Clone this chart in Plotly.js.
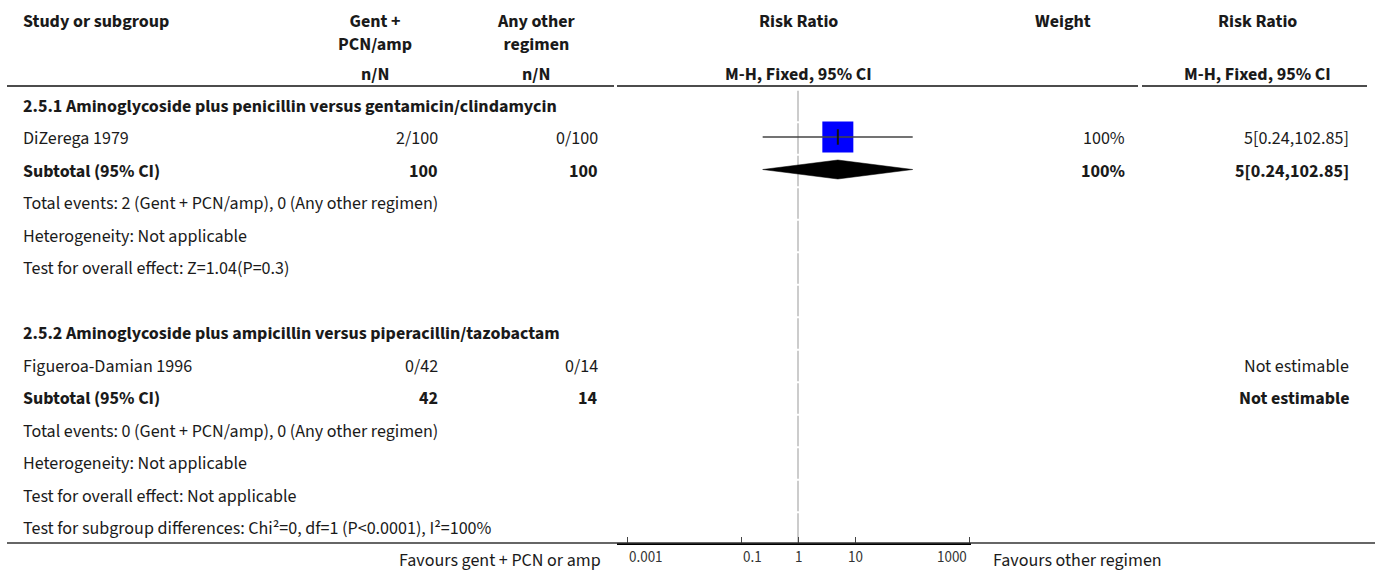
<!DOCTYPE html>
<html>
<head>
<meta charset="utf-8">
<script src="https://cdn.plot.ly/plotly-3.0.1.min.js"></script>
<style>
  html, body { margin: 0; padding: 0; background: #fff; }
  #chart { width: 1375px; height: 572px; }
</style>
</head>
<body>
<div id="chart"></div>
<script>
// Row labels of the forest table (one entry per row, top to bottom)
const rowLabels = [
  "2.5.1 Aminoglycoside plus penicillin versus gentamicin/clindamycin",
  "DiZerega 1979",
  "Subtotal (95% CI)",
  "Total events: 2 (Gent + PCN/amp), 0 (Any other regimen)",
  "Heterogeneity: Not applicable",
  "Test for overall effect: Z=1.04(P=0.3)",
  "",
  "2.5.2 Aminoglycoside plus ampicillin versus piperacillin/tazobactam",
  "Figueroa-Damian 1996",
  "Subtotal (95% CI)",
  "Total events: 0 (Gent + PCN/amp), 0 (Any other regimen)",
  "Heterogeneity: Not applicable",
  "Test for overall effect: Not applicable",
  "Test for subgroup differences: Chi\u00b2=0, df=1 (P<0.0001), I\u00b2=100%"
];
const boldRows = [true, false, true, false, false, false, false, true, false, true, false, false, false, false];

// Events / totals per arm
const gentCol  = ["", "2/100", "100", "", "", "", "", "", "0/42", "42", "", "", "", ""];
const otherCol = ["", "0/100", "100", "", "", "", "", "", "0/14", "14", "", "", "", ""];
const weightCol = ["", "100%", "100%", "", "", "", "", "", "", "", "", "", "", ""];

// Individual study estimates (risk ratio with 95% CI)
const studyRows = [1];
const studyRR = [5];
const studyLo = [0.24];
const studyHi = [102.85];
const studyWeight = [100];

// Pooled (subtotal) estimates
const poolRows = [2];
const poolRR = [5];
const poolLo = [0.24];
const poolHi = [102.85];

// Rows without an estimate
const notEstimableRows = [8, 9];

// Line of no effect
const nullEffect = 1;

// Axis ticks
const tickVals = [0.001, 0.1, 1, 10, 1000];
const tickText = ["0.001", "0.1", "1", "10", "1000"];
const tickAnchor = ["left", "left", "center", "center", "right"];

// ---- geometry (pixels) ----
const W = 1375, H = 572;
const FONT = "'Source Sans Pro', 'Source Sans 3', Lato, 'Noto Sans', sans-serif";
const TXT = "#1a1a1a";
const FS = 18;
const rowTop = 104.5, rowStep = 32.5;   // centre of first row, row spacing
const textDrop = 1.5;                   // text sits slightly below the mark centre line
const plotBottom = 543;                 // y of the bottom rule / axis
const headRule = 86;                    // y of the rule under the headings
const pxPerDecade = 57, oneX = 798;     // log scale of the forest panel
const axL = 617, axR = 971;
const textLeft = 21;

const toRow = py => (py - rowTop) / rowStep;
const py2paper = py => 1 - py / H;
const log10 = Math.log10;

const ciText = [];
for (let i = 0; i < rowLabels.length; i++) ciText.push("");
studyRows.forEach((r, k) => ciText[r] = `${studyRR[k]}[${studyLo[k]},${studyHi[k]}]`);
poolRows.forEach((r, k) => ciText[r] = `${poolRR[k]}[${poolLo[k]},${poolHi[k]}]`);
notEstimableRows.forEach(r => ciText[r] = "Not estimable");

const ann = [];
function txt(x, y, text, opts = {}) {
  ann.push(Object.assign({
    x: x / W, xref: "paper", y: y, yref: "y", yshift: -textDrop,
    text: text, showarrow: false,
    xanchor: "left", yanchor: "middle",
    font: { family: FONT, size: FS, color: TXT }
  }, opts));
}
const b = s => s ? `<b>${s}</b>` : s;

rowLabels.forEach((lab, i) => {
  const f = s => boldRows[i] ? b(s) : s;
  if (lab) txt(textLeft, i, f(lab));
  if (gentCol[i]) txt(440, i, f(gentCol[i]), { xanchor: "right" });
  if (otherCol[i]) txt(600, i, f(otherCol[i]), { xanchor: "right" });
  if (weightCol[i]) txt(1127, i, f(weightCol[i]), { xanchor: "right" });
  if (ciText[i]) txt(1351, i, f(ciText[i]), { xanchor: "right" });
});

// column headings
function head(x, py, text, anchor) {
  ann.push({
    x: x / W, xref: "paper", y: py2paper(py), yref: "paper",
    text: text.split("\n").map(t => `<b>${t}</b>`).join("<br>"), showarrow: false,
    xanchor: anchor || "center", yanchor: "middle",
    font: { family: FONT, size: FS, color: TXT }
  });
}
head(textLeft, 22, "Study or subgroup", "left");
head(375, 33, "Gent +\nPCN/amp");
head(536, 33, "Any other\nregimen");
head(798, 22, "Risk Ratio");
head(1063, 22, "Weight");
head(1257, 22, "Risk Ratio");
head(375, 74, "n/N");
head(536, 74, "n/N");
head(798, 74, "M-H, Fixed, 95% CI");
head(1257, 74, "M-H, Fixed, 95% CI");

// axis tick labels and the favours captions
tickVals.forEach((v, k) => {
  ann.push({
    x: log10(v), xref: "x", y: py2paper(557), yref: "paper",
    text: tickText[k], showarrow: false, xanchor: tickAnchor[k], yanchor: "middle",
    font: { family: FONT, size: 15, color: "#333" }
  });
});
ann.push({ x: 603 / W, xref: "paper", y: py2paper(560), yref: "paper",
  text: "Favours gent + PCN or amp", showarrow: false, xanchor: "right", yanchor: "middle",
  font: { family: FONT, size: FS, color: TXT } });
ann.push({ x: 991 / W, xref: "paper", y: py2paper(560), yref: "paper",
  text: "Favours other regimen", showarrow: false, xanchor: "left", yanchor: "middle",
  font: { family: FONT, size: FS, color: TXT } });

// ---- traces ----
const traces = [];
// weighted squares
traces.push({
  type: "scatter", mode: "markers", x: studyRR, y: studyRows,
  marker: { symbol: "square", size: studyWeight.map(w => 31 * Math.sqrt(w / 100)),
            color: "#0000ff", opacity: 1, line: { width: 0 } },
  hoverinfo: "skip"
});
// confidence interval lines, drawn over the squares
studyRows.forEach((r, k) => {
  traces.push({
    type: "scatter", mode: "lines", x: [studyLo[k], studyHi[k]], y: [r, r],
    line: { color: "#444", width: 1.5 }, hoverinfo: "skip"
  });
});
// point estimate tick
traces.push({
  type: "scatter", mode: "markers", x: studyRR, y: studyRows,
  marker: { symbol: "line-ns", size: 11, opacity: 1, line: { color: "#111", width: 2 } },
  hoverinfo: "skip"
});
// pooled diamonds
const halfH = 9.5 / rowStep;
poolRows.forEach((r, k) => {
  traces.push({
    type: "scatter", mode: "lines", fill: "toself", fillcolor: "#000",
    x: [poolLo[k], poolRR[k], poolHi[k], poolRR[k], poolLo[k]],
    y: [r, r - halfH, r, r + halfH, r],
    line: { color: "#000", width: 0.5 }, hoverinfo: "skip"
  });
});

// rules
const shapes = [];
// heading rule, broken at column edges
[[7, 614], [617, 1138], [1142, 1367]].forEach(([a, c]) => shapes.push({
  type: "line", xref: "paper", yref: "paper", x0: a / W, x1: c / W,
  y0: py2paper(headRule), y1: py2paper(headRule), line: { color: "#111", width: 1.5 }
}));
// bottom rule
shapes.push({ type: "line", xref: "paper", yref: "paper", x0: 7 / W, x1: 1,
  y0: py2paper(plotBottom), y1: py2paper(plotBottom), line: { color: "#333", width: 1.5 } });
// line of no effect, drawn cell by cell
for (let i = 0; i < rowLabels.length; i++) {
  const c = rowTop + textDrop + rowStep * i;
  const top = Math.max(c - rowStep / 2 + 1, headRule + 2);
  const bot = Math.min(c + rowStep / 2 - 1, plotBottom);
  shapes.push({ type: "line", xref: "x", yref: "paper", x0: nullEffect, x1: nullEffect,
    y0: py2paper(bot), y1: py2paper(top), line: { color: "#999", width: 1 }, layer: "below" });
}

const layout = {
  width: W, height: H,
  margin: { l: 0, r: 0, t: 0, b: 0 },
  paper_bgcolor: "#fff", plot_bgcolor: "rgba(0,0,0,0)",
  showlegend: false,
  xaxis: {
    type: "log",
    domain: [axL / W, axR / W],
    range: [(axL - oneX) / pxPerDecade, (axR - oneX) / pxPerDecade],
    showgrid: false, zeroline: false,
    showline: true, linecolor: "#000", linewidth: 2,
    tickmode: "array", tickvals: tickVals, ticktext: tickText,
    showticklabels: false,
    ticks: "inside", ticklen: 6, tickwidth: 1, tickcolor: "#444",
    fixedrange: true
  },
  yaxis: {
    domain: [(H - plotBottom) / H, 1],
    range: [toRow(plotBottom), toRow(0)],
    visible: false, fixedrange: true
  },
  shapes: shapes,
  annotations: ann
};

Plotly.newPlot("chart", traces, layout, { displayModeBar: false, staticPlot: true });
</script>
</body>
</html>
